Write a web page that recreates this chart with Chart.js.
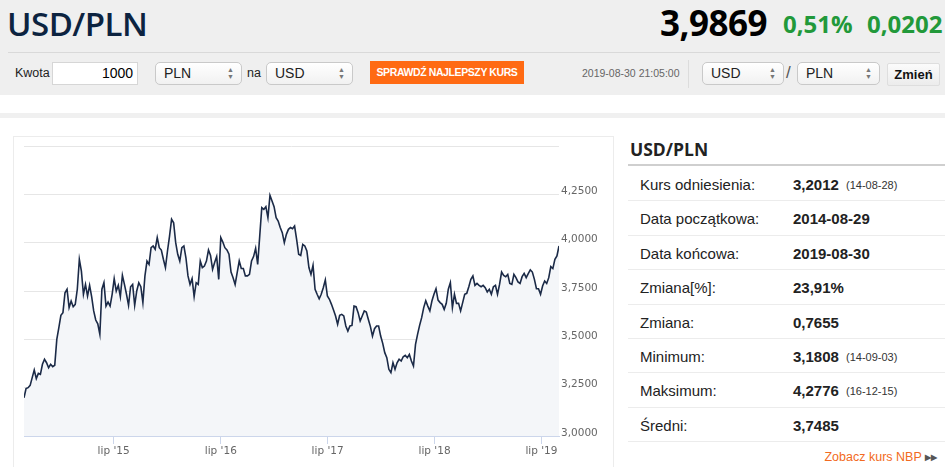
<!DOCTYPE html>
<html lang="pl">
<head>
<meta charset="UTF-8">
<title>USD/PLN</title>
<script src="https://cdn.jsdelivr.net/npm/chart.js"></script>
<style>
  body { margin: 0; width: 945px; height: 467px; overflow: hidden; background: #fff;
         font-family: "Liberation Sans", Arial, sans-serif; position: relative; }
  .abs { position: absolute; }
  #top { left: 0; top: 0; width: 945px; height: 95px; background: #efefef; }
  #title { left: 7px; top: 1px; font-family: "Open Sans", sans-serif; font-weight: 600; font-size: 33px; color: #0c2340; letter-spacing: -0.5px; }
  #price { right: 178px; top: -1px; font-family: "Open Sans", sans-serif; font-weight: 700; font-size: 35px; color: #000; letter-spacing: -0.5px; }
  .chg { top: 7px; font-family: "Open Sans", sans-serif; font-weight: 700; font-size: 24px; color: #22993a; }
  #hline { left: 8px; top: 52px; width: 932px; height: 1px; background: #d9d9d9; }
  .lbl { font-size: 12.5px; color: #222; top: 66px; }
  .box { top: 62px; height: 21px; border: 1px solid #c9c9c9; border-radius: 5px;
         background: linear-gradient(#ffffff, #f1f1f1); font-size: 14px; line-height: 21px; color: #222; }
  .box span.t { position: absolute; left: 8px; }
  .box span.a { position: absolute; right: 7px; top: 3px; font-size: 7px; line-height: 7px; color: #777; }
  #kwota { left: 52px; top: 62px; width: 84px; height: 21px; border: 1px solid #d6d6d6; background: #fff;
           font-size: 14px; line-height: 21px; text-align: right; }
  #btn { left: 370px; top: 61px; width: 154px; height: 23px; background: #ff6a13; color: #fff;
         font-weight: bold; font-size: 10.5px; letter-spacing: -0.4px; line-height: 23px; text-align: center; }
  #stamp { left: 582px; top: 67px; font-size: 10.5px; color: #666; }
  #vdiv { left: 688px; top: 60px; width: 1px; height: 28px; background: #dcdcdc; }
  #zmien { left: 887px; top: 63px; width: 51px; height: 21px; border: 1px solid #dedede; border-radius: 2px;
           background: linear-gradient(#fbfbfb, #ececec); font-weight: bold; font-size: 13px; line-height: 21px; text-align: center; color: #111; }
  #strip { left: 0; top: 113px; width: 945px; height: 5px; background: #f0f0f0; }
  #chartbox { left: 13px; top: 136px; width: 599px; height: 340px; border: 1px solid #ececec; }
  #wrap { left: 14px; top: 137px; width: 598px; height: 328px; }
  #ptitle { left: 630px; top: 137px; font-family: "Open Sans", sans-serif; font-weight: 700; font-size: 17.5px; color: #222; }
  #pline { left: 628px; top: 164px; width: 317px; height: 2px; background: #cfcfcf; }
  .row { left: 628px; width: 317px; height: 34.4px; border-bottom: 1px solid #ececec; box-sizing: border-box; }
  .row .k { position: absolute; left: 12px; top: 9px; font-size: 15px; color: #222; }
  .row .v { position: absolute; left: 165px; top: 9px; font-size: 15px; font-weight: bold; color: #222; }
  .row .d { position: absolute; left: 218px; top: 12px; font-size: 11px; color: #333; }
  #nbp { right: 8px; top: 450px; font-size: 12.5px; color: #f26a21; }
  #nbp b { font-size: 8px; color: #555; vertical-align: 1px; }
</style>
</head>
<body>
<div id="top" class="abs"></div>
<div id="title" class="abs">USD/PLN</div>
<div id="price" class="abs">3,9869</div>
<div class="abs chg" style="left:783px">0,51%</div>
<div class="abs chg" style="left:867px">0,0202</div>
<div id="hline" class="abs"></div>

<div class="abs lbl" style="left:15px">Kwota</div>
<div id="kwota" class="abs">1000&nbsp;</div>
<div class="abs box" style="left:155px;width:85px"><span class="t">PLN</span><span class="a">▲<br>▼</span></div>
<div class="abs lbl" style="left:247px">na</div>
<div class="abs box" style="left:266px;width:85px"><span class="t">USD</span><span class="a">▲<br>▼</span></div>
<div id="btn" class="abs">SPRAWDŹ NAJLEPSZY KURS</div>
<div id="stamp" class="abs">2019-08-30 21:05:00</div>
<div id="vdiv" class="abs"></div>
<div class="abs box" style="left:702px;width:80px"><span class="t">USD</span><span class="a">▲<br>▼</span></div>
<div class="abs lbl" style="left:786px;top:63px;font-size:17px;color:#555">/</div>
<div class="abs box" style="left:797px;width:81px"><span class="t">PLN</span><span class="a">▲<br>▼</span></div>
<div id="zmien" class="abs">Zmień</div>
<div id="strip" class="abs"></div>

<div id="chartbox" class="abs"></div>
<div id="wrap" class="abs"><canvas id="chart"></canvas></div>

<div id="ptitle" class="abs">USD/PLN</div>
<div id="pline" class="abs"></div>
<div id="rows"></div>
<div id="nbp" class="abs">Zobacz kurs NBP <b>▶▶</b></div>

<script>
// weekly USD/PLN rates, starting 2014-08-29
const startDate = '2014-08-29';
const stepDays = 7;
const rates = [
  3.198, 3.245, 3.250, 3.262, 3.302, 3.341, 3.297, 3.324, 3.319, 3.371,
  3.397, 3.379, 3.353, 3.371, 3.359, 3.366, 3.500, 3.560, 3.624, 3.638,
  3.741, 3.759, 3.664, 3.698, 3.669, 3.681, 3.759, 3.914, 3.853, 3.733,
  3.784, 3.724, 3.779, 3.721, 3.647, 3.600, 3.580, 3.526, 3.759, 3.793,
  3.672, 3.693, 3.672, 3.733, 3.814, 3.750, 3.779, 3.721, 3.831, 3.784,
  3.733, 3.676, 3.772, 3.784, 3.676, 3.750, 3.793, 3.772, 3.690, 3.828,
  3.905, 3.888, 3.974, 3.983,
  3.966, 4.026, 3.974, 3.962, 3.914, 3.871, 3.957, 4.034, 4.121, 4.103,
  4.000, 3.940, 3.905, 3.974, 3.983, 3.922, 3.828, 3.784, 3.814, 3.721,
  3.793, 3.784, 3.905, 3.871, 3.879, 3.905, 3.962, 3.934, 3.862, 3.897,
  3.928, 3.810, 4.026, 4.003, 3.974, 3.962, 3.940, 3.848, 3.819, 3.784,
  3.845, 3.905, 3.866, 3.866, 3.828, 3.828, 3.836, 3.905, 3.928, 3.971,
  3.888, 4.034, 4.181, 4.172, 4.186, 4.129, 4.245, 4.216, 4.186, 4.129,
  4.112, 4.078, 4.052, 4.000, 4.043, 4.069, 4.078,
  4.072, 4.086, 4.017, 3.940, 3.934, 3.991, 3.983, 3.957, 3.871, 3.836,
  3.883, 3.759, 3.733, 3.710, 3.733, 3.767, 3.807, 3.724, 3.707, 3.681,
  3.652, 3.621, 3.578, 3.624, 3.629, 3.621, 3.569, 3.543, 3.569, 3.572,
  3.672, 3.669, 3.638, 3.595, 3.621, 3.647, 3.641, 3.603, 3.566, 3.517,
  3.555, 3.569, 3.569, 3.517, 3.479, 3.431, 3.405, 3.345, 3.328, 3.379,
  3.345, 3.379, 3.397, 3.388, 3.410, 3.417, 3.405, 3.422, 3.388, 3.362,
  3.474, 3.526, 3.572, 3.612, 3.664, 3.700,
  3.672, 3.647, 3.698, 3.733, 3.762, 3.703, 3.690, 3.681, 3.655, 3.686,
  3.759, 3.793, 3.664, 3.733, 3.686, 3.686, 3.647, 3.690, 3.733, 3.738,
  3.772, 3.810, 3.828, 3.779, 3.789, 3.779, 3.772, 3.779, 3.767, 3.745,
  3.759, 3.733, 3.772, 3.779, 3.733, 3.784, 3.848, 3.831, 3.824, 3.836,
  3.789, 3.784, 3.836, 3.819, 3.797, 3.789, 3.824, 3.841, 3.819, 3.840,
  3.859, 3.848, 3.810, 3.762, 3.762, 3.733, 3.776, 3.802, 3.789, 3.819,
  3.876, 3.866, 3.914, 3.931, 3.983
];
const tickDates = ['2015-07-01', '2016-07-01', '2017-07-01', '2018-07-01', '2019-07-01'];
const tickLabels = ["lip '15", "lip '16", "lip '17", "lip '18", "lip '19"];

// side panel
const statLabels = ['Kurs odniesienia:', 'Data początkowa:', 'Data końcowa:', 'Zmiana[%]:',
                    'Zmiana:', 'Minimum:', 'Maksimum:', 'Średni:'];
const statValues = ['3,2012', '2014-08-29', '2019-08-30', '23,91%', '0,7655', '3,1808', '4,2776', '3,7485'];
const statDates = ['(14-08-28)', '', '', '', '', '(14-09-03)', '(16-12-15)', ''];

const rowsEl = document.getElementById('rows');
statLabels.forEach((k, i) => {
  const r = document.createElement('div');
  r.className = 'abs row';
  r.style.top = (167 + i * 34.4) + 'px';
  r.innerHTML = '<span class="k">' + k + '</span><span class="v">' + statValues[i] + '</span>' +
                (statDates[i] ? '<span class="d">' + statDates[i] + '</span>' : '');
  rowsEl.appendChild(r);
});

const dayOf = d => (Date.parse(d) - Date.parse(startDate)) / 86400000;
const points = rates.map((v, i) => ({ x: i * stepDays, y: v }));
const lastDay = (rates.length - 1) * stepDays;
const axisFont = { family: 'DejaVu Sans', size: 10.5 };

new Chart(document.getElementById('chart'), {
  type: 'line',
  data: {
    datasets: [{
      data: points,
      borderColor: '#1b2a47',
      borderWidth: 1.6,
      backgroundColor: '#f4f6f9',
      fill: 'start',
      pointRadius: 0,
      tension: 0
    }]
  },
  options: {
    responsive: true,
    maintainAspectRatio: false,
    animation: false,
    layout: { padding: { left: 10, top: 9, right: 0, bottom: 0 } },
    plugins: { legend: { display: false }, tooltip: { enabled: false } },
    scales: {
      x: {
        type: 'linear',
        min: 0,
        max: lastDay,
        afterBuildTicks: s => { s.ticks = tickDates.map(d => ({ value: dayOf(d) })); },
        afterFit: s => { s.height = 29; },
        ticks: {
          autoSkip: false, maxRotation: 0, padding: 1,
          color: '#666', font: axisFont,
          callback: (v, i) => tickLabels[i]
        },
        grid: { drawOnChartArea: false, drawTicks: true, tickLength: 8, color: '#ccd6eb' },
        border: { color: '#ccd6eb' }
      },
      y: {
        position: 'right',
        min: 3,
        max: 4.5,
        afterFit: s => { s.width = 53; },
        ticks: {
          stepSize: 0.25, padding: 2, labelOffset: -3,
          color: '#666', font: axisFont,
          callback: v => v >= 4.5 ? '' : v.toFixed(4).replace('.', ',')
        },
        grid: { color: '#e6e6e6', drawTicks: false },
        border: { display: false }
      }
    }
  }
});
</script>
</body>
</html>
